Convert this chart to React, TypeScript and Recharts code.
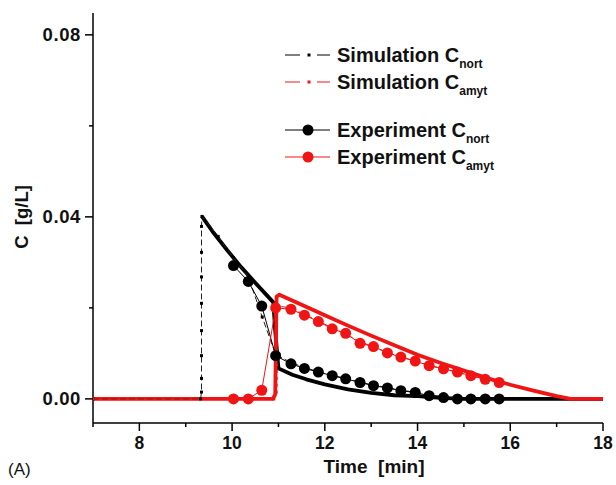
import React from 'react';
import { ComposedChart, Line, XAxis, YAxis } from 'recharts';

// experiment sampling times (min), shared by both compounds
const expTime = [10.03, 10.35, 10.64, 10.94, 11.27, 11.56, 11.86, 12.16, 12.45, 12.76, 13.05, 13.35, 13.64, 13.95, 14.25, 14.56, 14.86, 15.15, 15.46, 15.76];
const expNort = [0.0293, 0.0258, 0.0204, 0.0095, 0.0077, 0.0067, 0.0059, 0.0051, 0.0044, 0.0036, 0.0029, 0.0024, 0.0018, 0.0014, 0.0007, 0.0003, 0.0, 0.0, 0.0, 0.0];
const expAmyt = [0.0, 0.0, 0.0019, 0.02, 0.0197, 0.0184, 0.017, 0.0154, 0.0144, 0.0122, 0.0115, 0.0101, 0.0092, 0.0083, 0.0073, 0.0066, 0.0059, 0.0051, 0.0043, 0.0036];

// simulation (thin, dotted)
const simNortTime = [7.0, 9.32, 9.34, 9.34, 9.34, 9.34, 9.34, 9.34, 9.34, 9.34, 9.35, 9.7, 10.03, 10.35, 10.65, 10.94, 11.27, 11.56, 11.86, 12.16, 12.45, 12.76, 13.05, 13.35, 13.64, 13.95, 14.25, 14.56, 14.86, 15.15, 15.46, 15.76];
const simNort = [0, 0, 0.0015, 0.0045, 0.0095, 0.015, 0.021, 0.0268, 0.0322, 0.0379, 0.0401, 0.0357, 0.031, 0.0268, 0.018, 0.0097, 0.008, 0.0069, 0.006, 0.0052, 0.0045, 0.0037, 0.003, 0.0025, 0.0019, 0.0015, 0.0009, 0.0005, 0.0002, 0.0001, 0, 0];
const simAmytTime = [7.0, 10.9, 10.95, 10.95, 10.95, 10.95, 10.95, 10.95, 10.95, 10.95, 10.95, 10.95, 10.95, 10.97, 11.27, 11.56, 11.86, 12.16, 12.45, 12.76, 13.05, 13.35, 13.64, 13.95, 14.25, 14.56, 14.86, 15.15, 15.46, 15.76];
const simAmyt = [0, 0, 0.0015, 0.003, 0.0045, 0.006, 0.0075, 0.009, 0.0105, 0.012, 0.0135, 0.015, 0.0175, 0.0205, 0.0199, 0.0186, 0.0171, 0.0156, 0.0142, 0.0126, 0.0114, 0.0102, 0.0092, 0.0083, 0.0074, 0.0066, 0.0058, 0.0051, 0.0043, 0.0036];

// thick model curves
const modelNortTime = [9.35, 9.6, 9.9, 10.2, 10.5, 10.89, 10.93, 11.0, 11.3, 11.6, 12.0, 12.5, 13.0, 13.5, 14.0, 14.5, 15.0, 18.0];
const modelNort = [0.0401, 0.0365, 0.0326, 0.0289, 0.0255, 0.0212, 0.015, 0.0067, 0.0053, 0.0043, 0.0032, 0.0021, 0.0013, 0.0008, 0.0006, 0.0002, 0, 0];
const modelAmytTime = [7.0, 10.88, 10.93, 10.96, 11.02, 11.5, 12.0, 12.5, 13.0, 13.5, 14.0, 14.5, 15.0, 15.5, 16.0, 16.5, 17.0, 17.3, 18.0];
const modelAmyt = [0, 0, 0.001, 0.0225, 0.0229, 0.0207, 0.0184, 0.0161, 0.0139, 0.0118, 0.0097, 0.0079, 0.0062, 0.0046, 0.0031, 0.0018, 0.0006, 0, 0];

const xTicks = [7, 8, 9, 10, 11, 12, 13, 14, 15, 16, 17, 18];
const yTicks = [0, 0.02, 0.04, 0.06, 0.08];

const RED = '#f01414';
const FONT = '"Liberation Sans", Arial, Helvetica, sans-serif';

const toPoints = (xs: number[], ys: number[]) => xs.map((x, i) => ({ x, y: ys[i] }));

const square = (color: string) => (props: any) => (
    <rect key={`sq-${props.index}`} x={props.cx - 1.5} y={props.cy - 1.5} width={3} height={3} fill={color} />
);

const XTick = ({ x, y, payload }: any) => {
    const major = payload.value % 2 === 0;
    return (
        <g>
            <line x1={x} y1={y} x2={x} y2={y + (major ? 8 : 4)} stroke="#000" strokeWidth={1.5} />
            {major && (
                <text x={x} y={y + 26} textAnchor="middle" fontFamily={FONT} fontWeight="bold" fontSize={17.5} fill="#111">
                    {payload.value}
                </text>
            )}
        </g>
    );
};

const YTick = ({ x, y, payload }: any) => {
    const major = Math.round(payload.value / 0.02) % 2 === 0;
    return (
        <g>
            <line x1={x} y1={y} x2={x - (major ? 8 : 4)} y2={y} stroke="#000" strokeWidth={1.5} />
            {major && (
                <text x={x - 12} y={y + 6.5} textAnchor="end" fontFamily={FONT} fontWeight="bold" fontSize={18.5} letterSpacing={0.6} fill="#111">
                    {payload.value.toFixed(2)}
                </text>
            )}
        </g>
    );
};

const LegendRow = ({ y, color, label, sub, sim }: any) => (
    <g>
        {sim ? (
            <>
                <line x1={285} y1={y} x2={300} y2={y} stroke={color} strokeWidth={1} />
                <rect x={307.5} y={y - 1.5} width={3} height={3} fill={color} />
                <line x1={317} y1={y} x2={330} y2={y} stroke={color} strokeWidth={1} />
            </>
        ) : (
            <>
                <line x1={285} y1={y} x2={330} y2={y} stroke={color} strokeWidth={1} />
                <circle cx={308} cy={y} r={5.5} fill={color} />
            </>
        )}
        <text x={337} y={y + 7} fontFamily={FONT} fontWeight="bold" fontSize={20} fill="#111">
            {label}
            <tspan fontSize={12} dy={6}>{sub}</tspan>
        </text>
    </g>
);

const App: React.FC = () => {
    return (
        <div style={{ position: 'absolute', left: 0, top: 0, width: 616, height: 485, background: '#fff' }}>
            <ComposedChart width={616} height={485} margin={{ top: 13, right: 13, bottom: 0, left: 0 }}>
                <XAxis
                    dataKey="x"
                    type="number"
                    domain={[7, 18]}
                    ticks={xTicks}
                    interval={0}
                    height={62}
                    tickSize={0}
                    tickMargin={0}
                    tickLine={false}
                    axisLine={{ stroke: '#000', strokeWidth: 1.5 }}
                    tick={<XTick />}
                    allowDataOverflow
                />
                <YAxis
                    dataKey="y"
                    type="number"
                    domain={[-0.0053, 0.0848]}
                    ticks={yTicks}
                    interval={0}
                    width={93}
                    tickSize={0}
                    tickMargin={0}
                    tickLine={false}
                    axisLine={{ stroke: '#000', strokeWidth: 1.5 }}
                    tick={<YTick />}
                    allowDataOverflow
                />
                <Line data={toPoints(modelNortTime, modelNort)} dataKey="y" type="linear" stroke="#000" strokeWidth={3.8} strokeLinejoin="round" dot={false} activeDot={false} isAnimationActive={false} />
                <Line data={toPoints(modelAmytTime, modelAmyt)} dataKey="y" type="linear" stroke={RED} strokeWidth={3.8} strokeLinejoin="round" dot={false} activeDot={false} isAnimationActive={false} />
                <Line data={toPoints(simNortTime, simNort)} dataKey="y" type="linear" stroke="#222" strokeWidth={1} strokeDasharray="6 3" dot={square('#000')} activeDot={false} isAnimationActive={false} />
                <Line data={toPoints(simAmytTime, simAmyt)} dataKey="y" type="linear" stroke={RED} strokeWidth={1} strokeDasharray="6 3" dot={square(RED)} activeDot={false} isAnimationActive={false} />
                <Line data={toPoints(expTime, expNort)} dataKey="y" type="linear" stroke="#000" strokeWidth={1} dot={{ r: 5.5, fill: '#000', stroke: 'none' }} activeDot={false} isAnimationActive={false} />
                <Line data={toPoints(expTime, expAmyt)} dataKey="y" type="linear" stroke={RED} strokeWidth={1} dot={{ r: 5.5, fill: RED, stroke: 'none' }} activeDot={false} isAnimationActive={false} />
            </ComposedChart>
            <svg width={616} height={485} style={{ position: 'absolute', left: 0, top: 0, pointerEvents: 'none' }}>
                <LegendRow y={55} color="#000" label="Simulation C" sub="nort" sim />
                <LegendRow y={82} color={RED} label="Simulation C" sub="amyt" sim />
                <LegendRow y={130} color="#000" label="Experiment C" sub="nort" />
                <LegendRow y={157} color={RED} label="Experiment C" sub="amyt" />
                <text transform="translate(28, 217) rotate(-90)" textAnchor="middle" fontFamily={FONT} fontWeight="bold" fontSize={18.5} fill="#111">
                    {'C\u00a0\u00a0[g/L]'}
                </text>
                <text x={374} y={473} textAnchor="middle" fontFamily={FONT} fontWeight="bold" fontSize={19} fill="#111">
                    {'Time\u00a0\u00a0[min]'}
                </text>
                <text x={8} y={475} fontFamily={FONT} fontSize={17} fill="#111">(A)</text>
            </svg>
        </div>
    );
};

export default App;
